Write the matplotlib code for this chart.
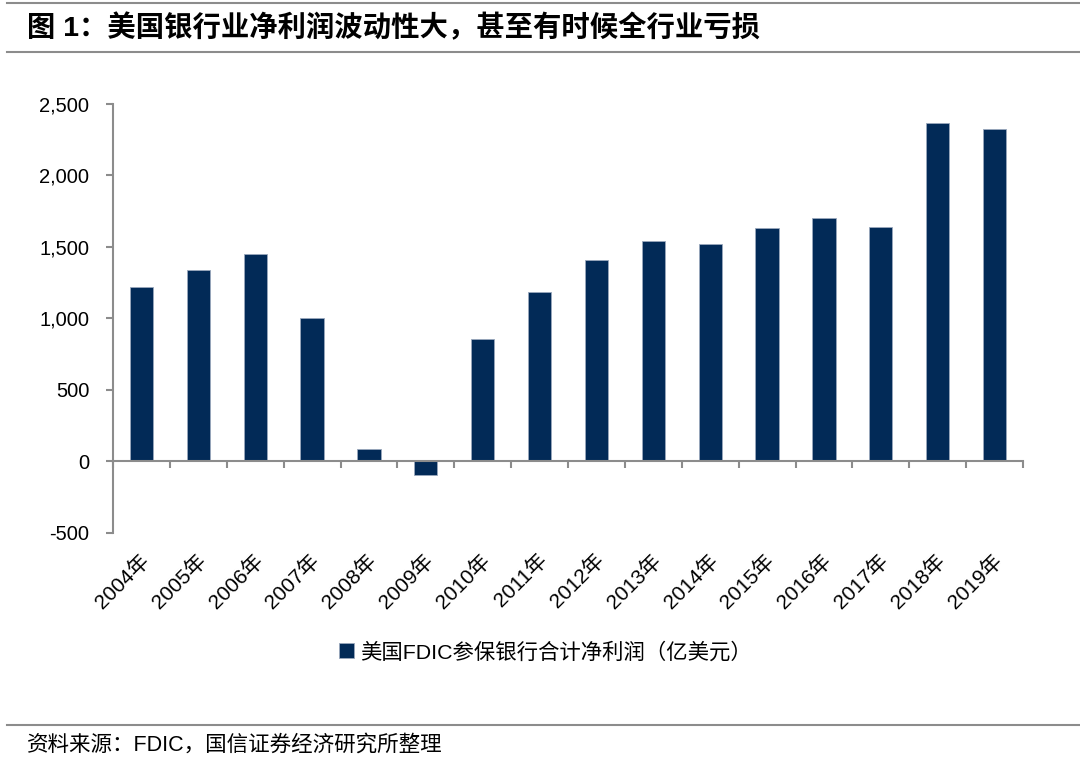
import matplotlib
matplotlib.use("Agg")
import matplotlib.pyplot as plt
import matplotlib.transforms as mtransforms
from matplotlib.lines import Line2D
from matplotlib.ticker import FuncFormatter, FixedLocator

plt.rcParams['font.family'] = ['Liberation Sans', 'Noto Sans CJK SC', 'DejaVu Sans']

years = ["2004年", "2005年", "2006年", "2007年", "2008年", "2009年", "2010年", "2011年",
         "2012年", "2013年", "2014年", "2015年", "2016年", "2017年", "2018年", "2019年"]
net_income = [1220, 1337, 1450, 1000, 86, -100, 855, 1183,
              1407, 1541, 1522, 1634, 1704, 1641, 2367, 2327]
series_name = "美国FDIC参保银行合计净利润（亿美元）"
title = "图 1：美国银行业净利润波动性大，甚至有时候全行业亏损"
source = "资料来源：FDIC，国信证券经济研究所整理"

bar_color = "#022a57"
grey = "#8c8c8c"

fig = plt.figure(figsize=(10.8, 7.7), dpi=100)
ax = fig.add_axes([113/1080, 1-532.5/770, (1023-113)/1080, (532.5-104)/770])

x = list(range(len(years)))
ax.bar(x, net_income, width=0.41, color=bar_color, edgecolor="#9aa8bd", linewidth=0.6,
       label=series_name, zorder=2)

ax.set_xlim(-0.5, len(years)-0.5)
ax.set_ylim(-500, 2500)
ax.yaxis.set_major_locator(FixedLocator([-500, 0, 500, 1000, 1500, 2000, 2500]))
ax.yaxis.set_major_formatter(FuncFormatter(lambda v, p: f"{int(v):,}"))

for s in ['top', 'right']:
    ax.spines[s].set_visible(False)
ax.spines['bottom'].set_position(('data', 0))
ax.spines['bottom'].set_color(grey)
ax.spines['left'].set_color(grey)
ax.spines['bottom'].set_linewidth(1.5)
ax.spines['left'].set_linewidth(1.5)
ax.spines['bottom'].set_zorder(3)

ax.set_xticks([i - 0.5 for i in range(len(years)+1)])
ax.set_xticklabels([])
ax.tick_params(axis='x', direction='out', length=5, width=1.5, color=grey)
ax.tick_params(axis='y', direction='out', length=5, width=1.5, color=grey,
               labelsize=14.5, pad=12, labelcolor='black')

trans = mtransforms.blended_transform_factory(ax.transData, ax.transAxes)
for i, lab in enumerate(years):
    ax.text(i + 0.08, -0.058, lab, transform=trans, rotation=45, rotation_mode='anchor',
            ha='right', va='center', fontsize=15, color='black')

leg = fig.legend(loc='center', bbox_to_anchor=(0.505, 1-652/770), frameon=False,
                 handlelength=0.7, handleheight=0.7, handletextpad=0.3,
                 prop={'family': ['Liberation Sans', 'Noto Sans CJK SC'], 'size': 15.4})

# header / footer
fig.add_artist(Line2D([7/1080, 1], [1-3/770, 1-3/770], color=grey, lw=1.5))
fig.add_artist(Line2D([7/1080, 1], [1-52/770, 1-52/770], color=grey, lw=1.5))
fig.add_artist(Line2D([7/1080, 1], [1-725/770, 1-725/770], color=grey, lw=1.5))
fig.text(27/1080, 1-28/770, title, fontsize=20.4, fontweight='bold', va='center', ha='left',
         color='black')
fig.text(27/1080, 1-745/770, source, fontsize=15.5, va='center', ha='left', color='black')

fig.savefig("out.png", dpi=100)
